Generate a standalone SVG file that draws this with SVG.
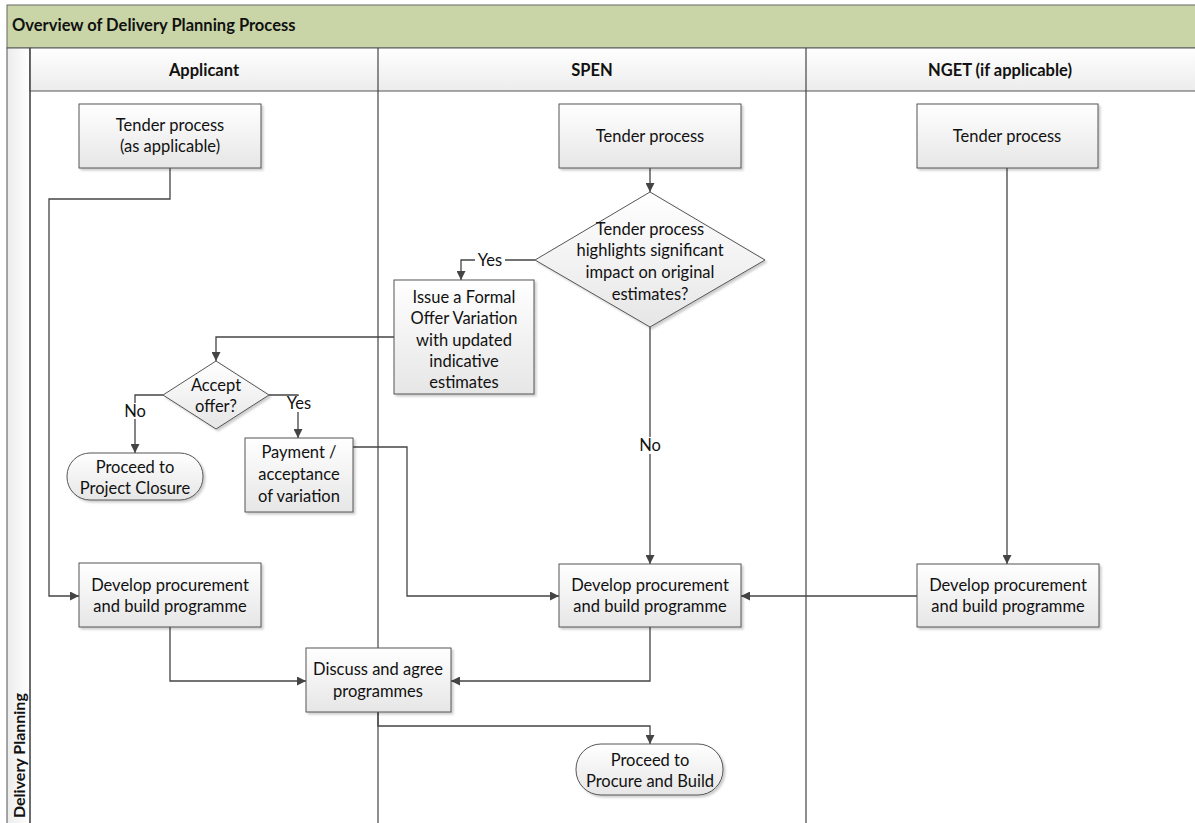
<svg xmlns="http://www.w3.org/2000/svg" width="1195" height="823" viewBox="0 0 1195 823">
<style>
text{font-family:Lato,"Open Sans","Liberation Sans",sans-serif;fill:#111;}
.t{font-size:16.5px;text-anchor:middle;}
.h{font-size:16.5px;font-weight:bold;text-anchor:middle;}
.box{fill:url(#g);stroke:#555;stroke-width:1;filter:url(#sh);}
.ca{fill:none;stroke:#444;stroke-width:1.3;marker-end:url(#ar);}
.lane{stroke:#444;stroke-width:1.2;}
.bg{fill:#fff;}
</style>
<defs>
<linearGradient id="g" x1="0" y1="0" x2="0" y2="1"><stop offset="0" stop-color="#ffffff"/><stop offset="1" stop-color="#e6e6e6"/></linearGradient>
<linearGradient id="hg" x1="0" y1="0" x2="0" y2="1"><stop offset="0" stop-color="#ffffff"/><stop offset="1" stop-color="#ececec"/></linearGradient>
<linearGradient id="sg" x1="0" y1="0" x2="1" y2="0"><stop offset="0" stop-color="#ececec"/><stop offset="1" stop-color="#ffffff"/></linearGradient>
<filter id="sh" x="-10%" y="-10%" width="130%" height="130%"><feDropShadow dx="2" dy="2" stdDeviation="1" flood-color="#000" flood-opacity="0.2"/></filter>
<marker id="ar" viewBox="0 0 10 10" refX="10" refY="5" markerWidth="9" markerHeight="9" markerUnits="userSpaceOnUse" orient="auto"><path d="M0,0 L10,5 L0,10 z" fill="#444"/></marker>
</defs>
<g id="frame">
<rect x="7" y="5" width="1195" height="43" fill="#c9d5a6" stroke="#666" stroke-width="1"/>
<text x="12" y="31" style="font-size:16.5px;font-weight:bold">Overview of Delivery Planning Process</text>
<rect x="7" y="48" width="23" height="780" fill="url(#sg)" stroke="#555" stroke-width="1"/>
<text transform="translate(25,818) rotate(-90)" style="font-size:16px;font-weight:bold">Delivery Planning</text>
<rect x="30" y="48" width="1170" height="43" fill="url(#hg)" stroke="#555" stroke-width="1"/>
<text class="h" x="204" y="76">Applicant</text>
<text class="h" x="592" y="76">SPEN</text>
<text class="h" x="1000" y="76">NGET (if applicable)</text>
<line class="lane" x1="30" y1="48" x2="30" y2="823"/>
<line class="lane" x1="378" y1="48" x2="378" y2="823"/>
<line class="lane" x1="806" y1="48" x2="806" y2="823"/>
</g>
<g id="connectors">
<path class="ca" d="M170,168 V199 H49 V596 H79"/>
<path class="ca" d="M650,168 V192"/>
<path class="ca" d="M535,260 H461 V280"/>
<rect class="bg" x="475" y="252" width="30" height="16"/>
<text x="490" y="266" class="t">Yes</text>
<path class="ca" d="M650,327 V564"/>
<rect class="bg" x="639" y="437" width="22" height="17"/>
<text x="650" y="451" class="t">No</text>
<path class="ca" d="M1007,168 V564"/>
<path class="ca" d="M917,596 H741"/>
<path class="ca" d="M394,337 H216 V361"/>
<path class="ca" d="M163,395 H135 V453"/>
<rect class="bg" x="123" y="403" width="24" height="16"/>
<text x="135" y="417" class="t">No</text>
<path class="ca" d="M269,395 H298 V438"/>
<rect class="bg" x="284" y="396" width="30" height="16"/>
<text x="299" y="409" class="t">Yes</text>
<path class="ca" d="M353,447 H407 V596 H559"/>
<path class="ca" d="M170,627 V681 H306"/>
<path class="ca" d="M650,627 V681 H451"/>
<path class="ca" d="M378,712 V726 H650 V744"/>
</g>
<g id="n1"><rect class="box" x="79" y="104" width="182" height="64"/><text class="t" x="170" y="131">Tender process</text><text class="t" x="170" y="152">(as applicable)</text></g>
<g id="n2"><rect class="box" x="559" y="104" width="182" height="64"/><text class="t" x="650" y="142">Tender process</text></g>
<g id="n3"><rect class="box" x="917" y="104" width="181" height="64"/><text class="t" x="1007" y="142">Tender process</text></g>
<g id="n4"><path class="box" d="M650,192 L765,260 L650,327 L535,260 Z"/><text class="t" x="650" y="235">Tender process</text><text class="t" x="650" y="256">highlights significant</text><text class="t" x="650" y="278">impact on original</text><text class="t" x="650" y="300">estimates?</text></g>
<g id="n5"><rect class="box" x="394" y="280" width="140" height="114"/><text class="t" x="464" y="303">Issue a Formal</text><text class="t" x="464" y="324">Offer Variation</text><text class="t" x="464" y="346">with updated</text><text class="t" x="464" y="367">indicative</text><text class="t" x="464" y="388">estimates</text></g>
<g id="n6"><path class="box" d="M216,361 L269,395 L216,429 L163,395 Z"/><text class="t" x="216" y="391">Accept</text><text class="t" x="216" y="412">offer?</text></g>
<g id="n7"><rect class="box" x="67" y="453" width="136" height="47" rx="23" ry="23"/><text class="t" x="135" y="473">Proceed to</text><text class="t" x="135" y="494">Project Closure</text></g>
<g id="n8"><rect class="box" x="245" y="438" width="108" height="74"/><text class="t" x="299" y="458">Payment /</text><text class="t" x="299" y="480">acceptance</text><text class="t" x="299" y="502">of variation</text></g>
<g id="n9"><rect class="box" x="79" y="563" width="182" height="64"/><text class="t" x="170" y="591">Develop procurement</text><text class="t" x="170" y="612">and build programme</text></g>
<g id="n10"><rect class="box" x="559" y="564" width="182" height="63"/><text class="t" x="650" y="591">Develop procurement</text><text class="t" x="650" y="612">and build programme</text></g>
<g id="n11"><rect class="box" x="917" y="564" width="182" height="63"/><text class="t" x="1008" y="591">Develop procurement</text><text class="t" x="1008" y="612">and build programme</text></g>
<g id="n12"><rect class="box" x="306" y="648" width="145" height="64"/><text class="t" x="378" y="675">Discuss and agree</text><text class="t" x="378" y="697">programmes</text></g>
<g id="n13"><rect class="box" x="576" y="744" width="147" height="51" rx="25" ry="25"/><text class="t" x="650" y="766">Proceed to</text><text class="t" x="650" y="787">Procure and Build</text></g>
</svg>
